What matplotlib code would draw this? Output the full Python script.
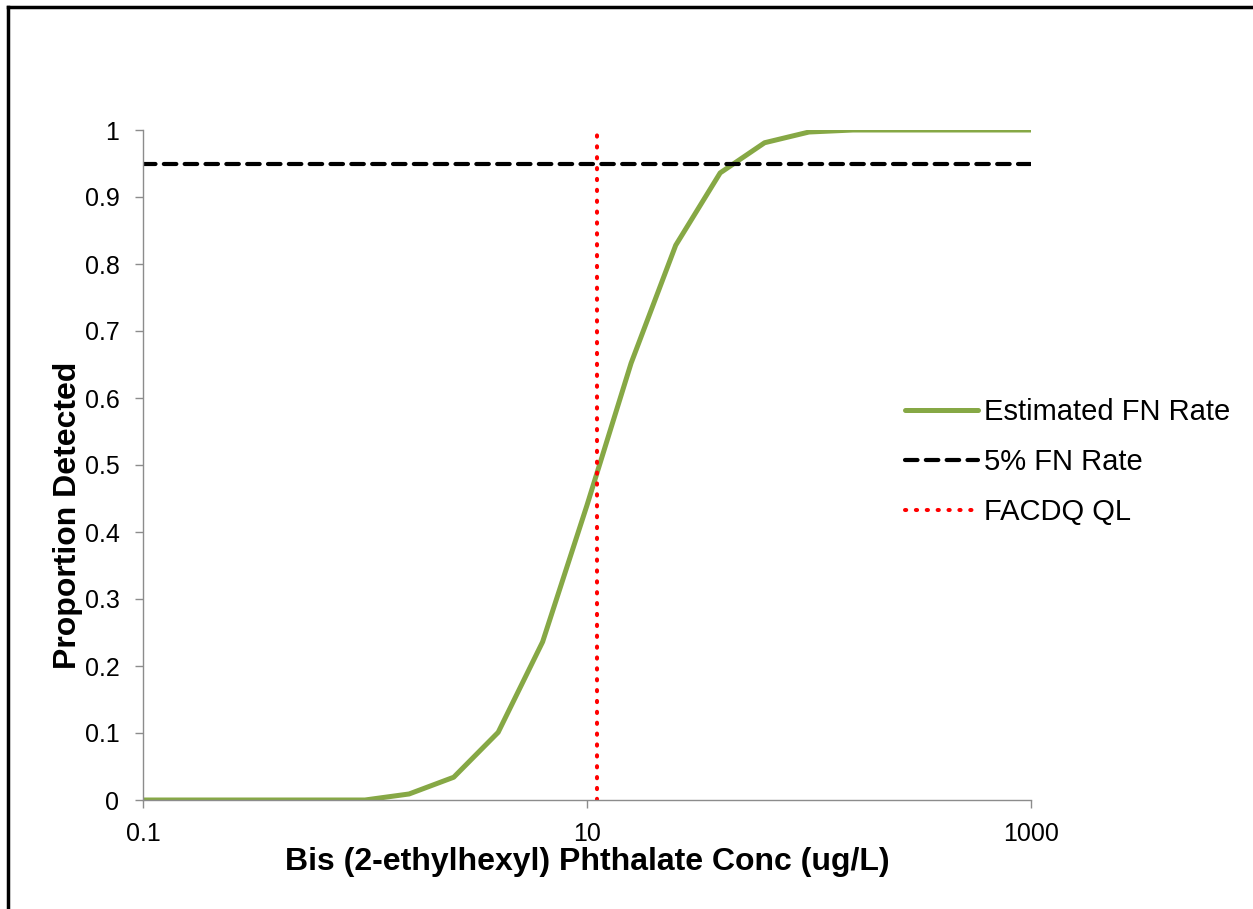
import numpy as np
import matplotlib.pyplot as plt
import matplotlib as mpl
from matplotlib.lines import Line2D

mpl.rcParams.update({"font.family": ["Liberation Sans", "DejaVu Sans"], "font.size": 18})

conc = [0.1, 0.158, 0.251, 0.398, 0.631, 1.0, 1.58, 2.51, 3.98, 6.31, 10.0,
        15.8, 25.1, 39.8, 63.1, 100, 158, 251, 398, 631, 1000]
detected = [0, 0, 0, 0, 0, 0, 0.009, 0.034, 0.101, 0.236, 0.44,
            0.652, 0.828, 0.936, 0.981, 0.997, 1, 1, 1, 1, 1]
fn_level = 0.95
ql = 11.1

fig = plt.figure(figsize=(12.53, 9.09), dpi=100)
ax = fig.add_axes([143 / 1253, 1 - 800 / 909, 888 / 1253, 670 / 909])

ax.plot(conc, detected, color="#86A845", linewidth=3.6, solid_capstyle="round",
        label="Estimated FN Rate")
ax.axhline(fn_level, color="black", linewidth=3, linestyle=(0, (3, 2)),
           dash_capstyle="round", label="5% FN Rate")
ax.axvline(ql, color="red", linewidth=2.9, linestyle=(0, (0.3, 2.4)),
           dash_capstyle="round", label="FACDQ QL")

ax.set_xscale("log")
ax.set_xlim(0.1, 1000)
ax.set_ylim(0, 1)
ax.set_xticks([0.1, 10, 1000])
ax.set_xticklabels(["0.1", "10", "1000"])
ax.xaxis.set_minor_locator(mpl.ticker.NullLocator())
ax.set_yticks(np.arange(0, 1.01, 0.1))
ax.set_yticklabels(["0"] + [f"{v:.1f}" for v in np.arange(0.1, 0.95, 0.1)] + ["1"])

for s in ["top", "right"]:
    ax.spines[s].set_visible(False)
for s in ["left", "bottom"]:
    ax.spines[s].set_color("#8c8c8c")
    ax.spines[s].set_linewidth(1)
ax.tick_params(length=6, width=1, color="#8c8c8c", labelsize=18)
ax.tick_params(axis="y", pad=11)
ax.tick_params(axis="x", pad=10)

ax.set_xlabel("Bis (2-ethylhexyl) Phthalate Conc (ug/L)", fontsize=23, fontweight="bold")
ax.xaxis.set_label_coords(0.5, -0.07)
ax.set_ylabel("Proportion Detected", fontsize=23, fontweight="bold")
ax.yaxis.set_label_coords(-0.068, 0.425)

ax.legend(loc="center left", bbox_to_anchor=(905 / 1253, 1 - 462 / 909),
          bbox_transform=fig.transFigure, frameon=False, fontsize=21,
          handlelength=2.5, handletextpad=0.2, labelspacing=0.75, borderpad=0,
          borderaxespad=0)

# outer frame (top and left edges visible)
fig.add_artist(Line2D([8 / 1253, 8 / 1253], [0, 1 - 7 / 909], color="black", linewidth=2.5))
fig.add_artist(Line2D([8 / 1253, 1], [1 - 7 / 909, 1 - 7 / 909], color="black", linewidth=2.5))

plt.savefig("out.png", dpi=100)
